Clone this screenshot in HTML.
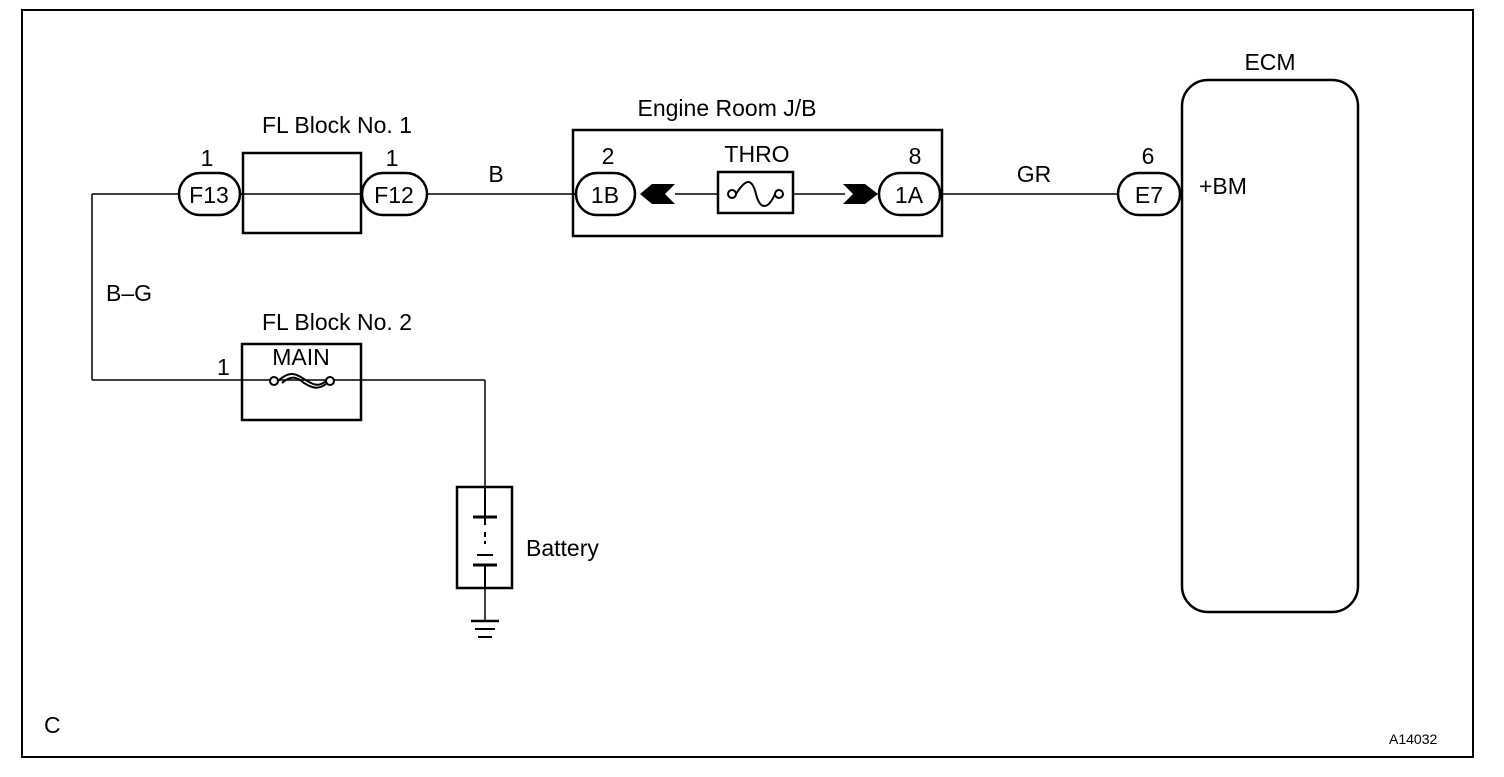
<!DOCTYPE html>
<html><head><style>
html,body{margin:0;padding:0;background:#fff;}
svg text{font-family:"Liberation Sans",Arial,sans-serif;fill:#000;}
</style></head><body>
<svg width="1504" height="772" viewBox="0 0 1504 772" xmlns="http://www.w3.org/2000/svg">
<rect x="22" y="10" width="1451" height="747" fill="none" stroke="#000" stroke-width="2"/>
<g stroke="#000" fill="none" stroke-width="1.5">
<line x1="92" y1="194" x2="178" y2="194"/>
<line x1="240" y1="194" x2="362" y2="194"/>
<line x1="427" y1="194" x2="575" y2="194"/>
<line x1="675" y1="194" x2="718" y2="194"/>
<line x1="793" y1="194" x2="845" y2="194"/>
<line x1="940" y1="194" x2="1118" y2="194"/>
<line x1="92" y1="194" x2="92" y2="380"/>
<line x1="92" y1="380" x2="485" y2="380"/>
<line x1="485" y1="380" x2="485" y2="487"/>
<line x1="485" y1="588" x2="485" y2="620"/>
</g>
<g stroke="#000" fill="none" stroke-width="2.5">
<rect x="243" y="153" width="118" height="80"/>
<rect x="573" y="130" width="369" height="106"/>
<rect x="718" y="172" width="75" height="41"/>
<rect x="242" y="344" width="119" height="76"/>
<rect x="457" y="487" width="55" height="101"/>
<rect x="1182" y="80" width="176" height="532" rx="26"/>
<rect x="179" y="173" width="61" height="42" rx="21" fill="#fff"/>
<rect x="362" y="173" width="65" height="42" rx="21" fill="#fff"/>
<rect x="576" y="173" width="59" height="42" rx="21" fill="#fff"/>
<rect x="879" y="173" width="61" height="42" rx="21" fill="#fff"/>
<rect x="1118" y="173" width="62" height="42" rx="21" fill="#fff"/>
</g>
<path d="M640 194 L652 184 L675 184 L665 194 L675 204 L652 204 Z" fill="#000"/>
<path d="M843 184 L865 184 L878 194 L865 204 L843 204 L853 194 Z" fill="#000"/>
<g stroke="#000" fill="none" stroke-width="2">
<circle cx="732" cy="194" r="4" fill="#fff"/>
<circle cx="779" cy="194" r="4" fill="#fff"/>
<path d="M736 194 C746 178,752 178,756 194 C760 210,768 210,775 194"/>
<circle cx="274" cy="381" r="4" fill="#fff"/>
<circle cx="330" cy="381" r="4" fill="#fff"/>
<path d="M278 381 C290 370,296 374,304 379 C312 384,318 388,326 381"/>
<path d="M282 383 C292 374,298 378,304 383 C312 388,318 390,326 384"/>
<line x1="473" y1="517" x2="497" y2="517" stroke-width="3"/>
<line x1="485" y1="517" x2="485" y2="525"/>
<line x1="485" y1="532" x2="485" y2="544" stroke-dasharray="5 4"/>
<line x1="477" y1="555" x2="493" y2="555"/>
<line x1="473" y1="565" x2="497" y2="565" stroke-width="3"/>
<line x1="485" y1="487" x2="485" y2="517"/>
<line x1="485" y1="565" x2="485" y2="588"/>
<line x1="471" y1="621" x2="499" y2="621" stroke-width="2.5"/>
<line x1="475" y1="629" x2="495" y2="629"/>
<line x1="478" y1="637" x2="492" y2="637"/>
</g>
<g font-size="23">
<g text-anchor="middle">
<text x="209" y="203">F13</text>
<text x="394" y="203">F12</text>
<text x="605" y="203">1B</text>
<text x="909" y="203">1A</text>
<text x="1149" y="203">E7</text>
<text x="207" y="166">1</text>
<text x="392" y="166">1</text>
<text x="608" y="164">2</text>
<text x="915" y="164">8</text>
<text x="1148" y="164">6</text>
<text x="496" y="182">B</text>
<text x="1034" y="182">GR</text>
<text x="757" y="162">THRO</text>
<text x="1270" y="70">ECM</text>
<text x="727" y="116">Engine Room J/B</text>
<text x="337" y="133">FL Block No. 1</text>
<text x="337" y="330">FL Block No. 2</text>
<text x="301" y="365">MAIN</text>
</g>
<text x="1199" y="194">+BM</text>
<text x="106" y="301">B–G</text>
<text x="217" y="375">1</text>
<text x="526" y="556">Battery</text>
<text x="44" y="733">C</text>
</g>
<text x="1389" y="744" font-size="14">A14032</text>
</svg>
</body></html>
